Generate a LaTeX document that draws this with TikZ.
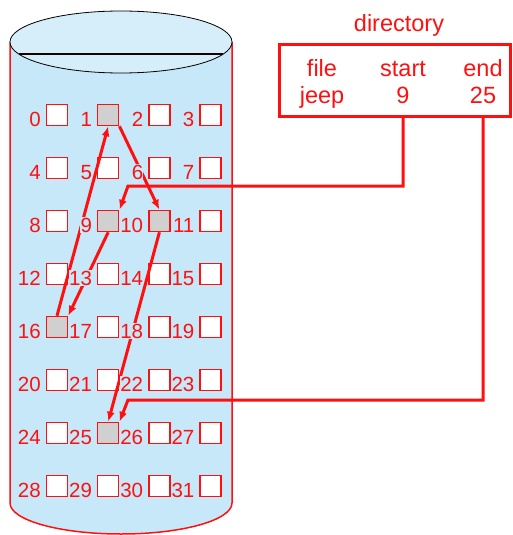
\documentclass[tikz,border=0pt]{standalone}
\usepackage{fontspec}
\setmainfont{Liberation Sans}
\usetikzlibrary{arrows.meta,calc}
\definecolor{diskRed}{HTML}{FF1010}
\definecolor{diskBlue}{HTML}{C6E8F8}
\definecolor{diskTop}{HTML}{D5EEFA}
\definecolor{usedGray}{HTML}{D0D0D0}

\begin{document}
\begin{tikzpicture}[
    x=1pt, y=-1pt,
    font=\fontsize{20.5}{24}\selectfont,
    blockBox/.style={
        rectangle, draw=diskRed, line width=1.5pt, fill=white,
        minimum size=21pt, inner sep=0pt
    },
    usedBox/.style={
        blockBox, fill=usedGray
    },
    numTxt/.style={
        text=diskRed, fill=diskBlue, inner xsep=0.3pt, inner ysep=1pt, anchor=base east
    },
    dirBox/.style={
        rectangle, draw=diskRed, line width=3pt,
        minimum width=231pt, minimum height=71pt, inner sep=0pt
    },
    dirTxt/.style={
        text=diskRed, anchor=base, font=\fontsize{23.5}{27}\selectfont
    },
    link/.style={
        draw=diskRed, line width=3pt, -{Latex[length=10pt, width=8pt]}
    }
]
\useasboundingbox (0,0) rectangle (512,535);

% Disk body
\path[fill=diskBlue, draw=diskRed, line width=1.5pt]
    (10,42) -- (10,503) arc[start angle=180, end angle=360, x radius=111pt, y radius=31pt] -- (232,42);

% Disk top
\draw[fill=diskTop, draw=black, line width=0.8pt] (121,42) ellipse [x radius=111pt, y radius=31pt];
\draw[line width=2.5pt, black!90!red] (19,54) -- (223,54);

% Blocks
\foreach \i in {0,...,31} {
    \pgfmathtruncatemacro{\col}{mod(\i,4)}
    \pgfmathtruncatemacro{\row}{div(\i,4)}
    \node[blockBox] (b\i) at ({57+51.2*\col},{115+53*\row}) {};
}
\foreach \u in {1,9,10,16,25}
    \node[usedBox] (u\u) at (b\u) {};

% Directory
\node[dirBox] (dir) at (394.5,80.5) {};
\node[dirTxt] (dname) at (399,32) {directory};
\node[dirTxt] (hfile) at (322,76) {file};
\node[dirTxt] (hstart) at (403,76) {start};
\node[dirTxt] (hend) at (483,76) {end};
\node[dirTxt] (vfile) at (322,103) {jeep};
\node[dirTxt] (vstart) at (403,103) {9};
\node[dirTxt] (vend) at (483,103) {25};

% Links
\coordinate (k9) at (128,186);
\coordinate (k25) at (128,400);
\draw[link] (vstart |- dir.south) |- (k9) -- (u9.north east);
\draw[link] (vend |- dir.south) |- (k25) -- (u25.north east);
\draw[link] (u16.north) -- (u1.south);
\draw[link] (u1.south east) -- (u10.north);
\draw[link] (u9.south) -- (u16.north east);
\draw[link] (u10.south) -- (u25.north);

% Block numbers
\foreach \i in {0,...,31}
    \node[numTxt] (n\i) at ($(b\i.south west)+(-4.5,0)$) {\i};

\end{tikzpicture}
\end{document}
